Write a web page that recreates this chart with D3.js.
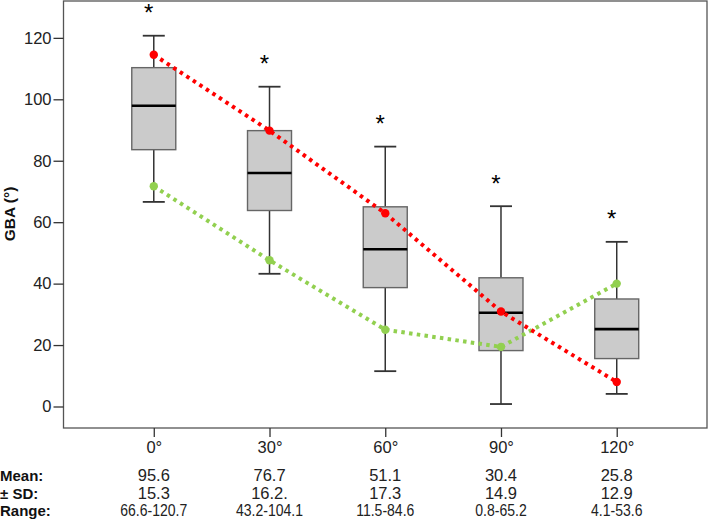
<!DOCTYPE html>
<html><head><meta charset="utf-8">
<script src="https://cdn.jsdelivr.net/npm/d3@7"></script>
<style>body{margin:0;background:#fff}svg{display:block}text{font-family:"Liberation Sans",Arial,sans-serif}</style>
</head><body><svg id="c" width="708" height="523"></svg>
<script>
const categories = ["0°","30°","60°","90°","120°"];
const whiskerLow  = [66.6, 43.2, 11.5, 0.8, 4.1];
const q1          = [83.6, 63.8, 38.7, 18.2, 15.6];
const median      = [97.9, 76.0, 51.2, 30.5, 25.2];
const q3          = [110.3, 89.8, 65.0, 41.9, 35.0];
const whiskerHigh = [120.7, 104.1, 84.6, 65.2, 53.6];
const sigMarks    = ["*","*","*","*","*"];
const redSeries   = [114.5, 89.8, 62.9, 30.9, 8.0];
const greenSeries = [71.7, 47.6, 25.0, 19.4, 40.0];
const yTicks      = [0, 20, 40, 60, 80, 100, 120];
const meanRow     = ["95.6","76.7","51.1","30.4","25.8"];
const sdRow       = ["15.3","16.2.","17.3","14.9","12.9"];
const rangeRow    = ["66.6-120.7","43.2-104.1","11.5-84.6","0.8-65.2","4.1-53.6"];
const rowLabels   = ["Mean:","±  SD:","Range:"];

const svg = d3.select("#c");
const L = 63.5, R = 707, T = 1, B = 428;
const x = d3.scalePoint().domain(categories).range([L, R]).padding(0.78);
const y = d3.scaleLinear().domain([-7, 132]).range([B, T]);

// frame
svg.append("rect").attr("x", L).attr("y", T).attr("width", R - L).attr("height", B - T)
  .attr("fill", "none").attr("stroke", "#555").attr("stroke-width", 1.3);

// y axis
const ya = svg.append("g").attr("transform", `translate(${L},0)`)
  .call(d3.axisLeft(y).tickValues(yTicks).tickSize(10).tickPadding(2).tickSizeOuter(0));
ya.select(".domain").remove();
ya.selectAll(".tick line").attr("stroke", "#333").attr("stroke-width", 1.3);
ya.selectAll(".tick text").attr("font-size", 16.5).attr("fill", "#222")
  .attr("font-family", "'Liberation Sans',Arial,sans-serif");

// x axis
const xa = svg.append("g").attr("transform", `translate(0,${B})`)
  .call(d3.axisBottom(x).tickSize(9).tickPadding(4).tickSizeOuter(0));
xa.select(".domain").remove();
xa.selectAll(".tick line").attr("stroke", "#333").attr("stroke-width", 1.3);
xa.selectAll(".tick text").attr("font-size", 16.5).attr("fill", "#222")
  .attr("font-family", "'Liberation Sans',Arial,sans-serif");

// y label
svg.append("text").attr("transform", `translate(15,214) rotate(-90)`)
  .attr("text-anchor", "middle").attr("font-size", 15.5).attr("font-weight", "bold")
  .attr("fill", "#111").text("GBA (°)");

// boxes
const boxW = 44, capW = 22;
const g = svg.append("g");
categories.forEach((c, i) => {
  const cx = x(c);
  const wc = "#333";
  g.append("line").attr("x1", cx).attr("x2", cx).attr("y1", y(whiskerHigh[i])).attr("y2", y(q3[i]))
    .attr("stroke", wc).attr("stroke-width", 1.5);
  g.append("line").attr("x1", cx).attr("x2", cx).attr("y1", y(q1[i])).attr("y2", y(whiskerLow[i]))
    .attr("stroke", wc).attr("stroke-width", 1.5);
  g.append("line").attr("x1", cx - capW/2).attr("x2", cx + capW/2).attr("y1", y(whiskerHigh[i])).attr("y2", y(whiskerHigh[i]))
    .attr("stroke", wc).attr("stroke-width", 1.8);
  g.append("line").attr("x1", cx - capW/2).attr("x2", cx + capW/2).attr("y1", y(whiskerLow[i])).attr("y2", y(whiskerLow[i]))
    .attr("stroke", wc).attr("stroke-width", 1.8);
  g.append("rect").attr("x", cx - boxW/2).attr("y", y(q3[i])).attr("width", boxW).attr("height", y(q1[i]) - y(q3[i]))
    .attr("fill", "#cbcbcb").attr("stroke", "#666").attr("stroke-width", 1.4);
  g.append("line").attr("x1", cx - boxW/2).attr("x2", cx + boxW/2).attr("y1", y(median[i])).attr("y2", y(median[i]))
    .attr("stroke", "#000").attr("stroke-width", 2.6);
  g.append("text").attr("x", cx - 5).attr("y", y(whiskerHigh[i]) - 14.5)
    .attr("text-anchor", "middle").attr("font-size", 24).attr("fill", "#000").text(sigMarks[i]);
});

// overlay dotted lines
function series(vals, color) {
  const pts = vals.map((v, i) => [x(categories[i]), y(v)]);
  svg.append("path").attr("d", d3.line()(pts)).attr("fill", "none")
    .attr("stroke", color).attr("stroke-width", 4).attr("stroke-dasharray", "3.5,4.3");
  svg.append("g").selectAll("circle").data(pts).join("circle")
    .attr("cx", d => d[0]).attr("cy", d => d[1]).attr("r", 4.2).attr("fill", color);
}
series(greenSeries, "#92d050");
series(redSeries, "#ff0000");

// table
const rows = [meanRow, sdRow, rangeRow];
const baselines = [481.3, 498.7, 516.2];
rows.forEach((row, r) => {
  const sx = r === 2 ? 0.85 : 1;
  svg.append("text").attr("x", 0).attr("y", baselines[r])
    .attr("font-size", 15).attr("font-weight", "bold").attr("fill", "#111").text(rowLabels[r]);
  row.forEach((t, i) => {
    svg.append("text").attr("transform", `translate(${x(categories[i])},${baselines[r]}) scale(${sx},1)`)
      .attr("text-anchor", "middle").attr("font-size", 16.5).attr("fill", "#222").text(t);
  });
});
</script></body></html>
